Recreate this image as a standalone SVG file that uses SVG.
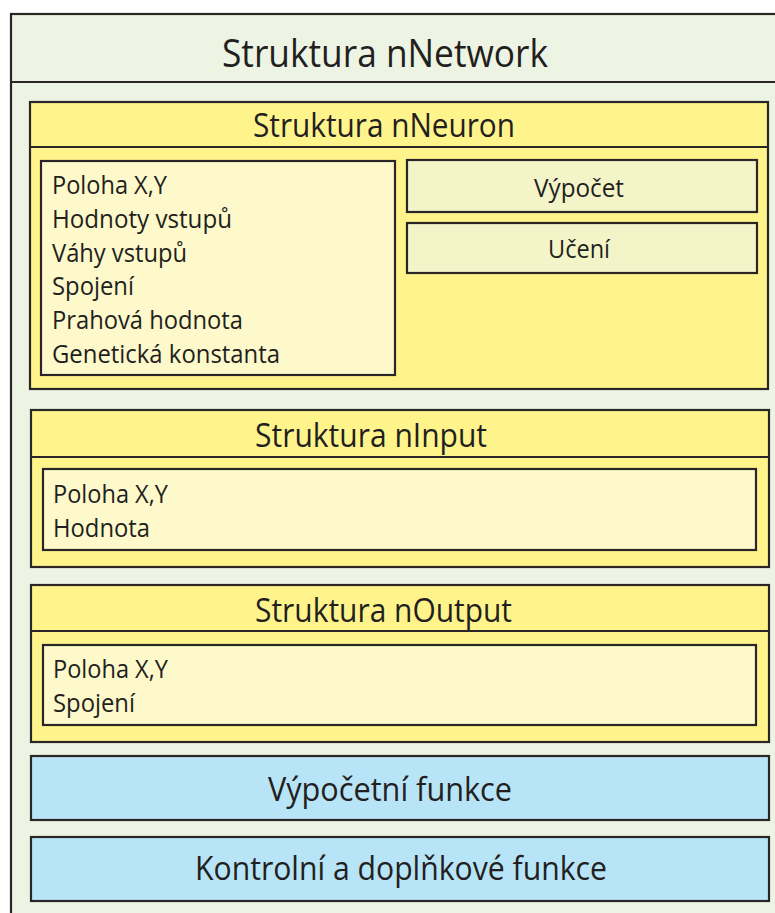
<svg xmlns="http://www.w3.org/2000/svg" width="775" height="913" viewBox="0 0 775 913">
  <style>
    .box { stroke: #2a2627; stroke-width: 2.2; }
    .outer { fill: #eef4e3; }
    .struct { fill: #fff48c; }
    .fields { fill: #fdf9cb; }
    .method { fill: #f3f5c9; }
    .func { fill: #b8e4f8; }
    .sep { stroke: #2a2627; stroke-width: 2.2; fill: none; }
    text { font-family: "Open Sans", "Noto Sans", sans-serif; fill: #231f20; }
    .h1 { font-size: 38px; }
    .h2 { font-size: 32px; }
    .b { font-size: 25px; }
  </style>

  <!-- nNetwork container -->
  <g id="nNetwork">
    <rect class="box outer" x="11" y="14" width="820" height="960"/>
    <line class="sep" x1="11" y1="82" x2="775" y2="82"/>
    <text class="h1" x="222" y="67" textLength="326" lengthAdjust="spacingAndGlyphs">Struktura nNetwork</text>
  </g>

  <!-- nNeuron structure -->
  <g id="nNeuron">
    <rect class="box struct" x="30" y="102" width="738" height="287"/>
    <line class="sep" x1="30" y1="147" x2="768" y2="147"/>
    <text class="h2" x="253" y="137" textLength="262" lengthAdjust="spacingAndGlyphs">Struktura nNeuron</text>
    <g id="nNeuron-fields">
      <rect class="box fields" x="41" y="161" width="354" height="214"/>
      <text class="b" x="52" y="194" textLength="115" lengthAdjust="spacingAndGlyphs">Poloha X,Y</text>
      <text class="b" x="52" y="228" textLength="180" lengthAdjust="spacingAndGlyphs">Hodnoty vstupů</text>
      <text class="b" x="52" y="262" textLength="135" lengthAdjust="spacingAndGlyphs">Váhy vstupů</text>
      <text class="b" x="52" y="295" textLength="82" lengthAdjust="spacingAndGlyphs">Spojení</text>
      <text class="b" x="52" y="329" textLength="191" lengthAdjust="spacingAndGlyphs">Prahová hodnota</text>
      <text class="b" x="52" y="363" textLength="228" lengthAdjust="spacingAndGlyphs">Genetická konstanta</text>
    </g>
    <g id="nNeuron-vypocet">
      <rect class="box method" x="407" y="160" width="350" height="52"/>
      <text class="b" x="534" y="197" textLength="90" lengthAdjust="spacingAndGlyphs">Výpočet</text>
    </g>
    <g id="nNeuron-uceni">
      <rect class="box method" x="407" y="223" width="350" height="50"/>
      <text class="b" x="548" y="258" textLength="62" lengthAdjust="spacingAndGlyphs">Učení</text>
    </g>
  </g>

  <!-- nInput structure -->
  <g id="nInput">
    <rect class="box struct" x="31" y="410" width="738" height="157"/>
    <line class="sep" x1="31" y1="457" x2="769" y2="457"/>
    <text class="h2" x="255" y="447" textLength="232" lengthAdjust="spacingAndGlyphs">Struktura nInput</text>
    <rect class="box fields" x="43" y="469" width="713" height="81"/>
    <text class="b" x="53" y="503" textLength="115" lengthAdjust="spacingAndGlyphs">Poloha X,Y</text>
    <text class="b" x="53" y="537" textLength="97" lengthAdjust="spacingAndGlyphs">Hodnota</text>
  </g>

  <!-- nOutput structure -->
  <g id="nOutput">
    <rect class="box struct" x="31" y="585" width="738" height="157"/>
    <line class="sep" x1="31" y1="631" x2="769" y2="631"/>
    <text class="h2" x="255" y="622" textLength="257" lengthAdjust="spacingAndGlyphs">Struktura nOutput</text>
    <rect class="box fields" x="43" y="645" width="713" height="80"/>
    <text class="b" x="53" y="678" textLength="115" lengthAdjust="spacingAndGlyphs">Poloha X,Y</text>
    <text class="b" x="53" y="712" textLength="82" lengthAdjust="spacingAndGlyphs">Spojení</text>
  </g>

  <!-- function blocks -->
  <g id="vypocetni-funkce">
    <rect class="box func" x="31" y="756" width="738" height="64"/>
    <text class="h2" x="268" y="801" textLength="244" lengthAdjust="spacingAndGlyphs">Výpočetní funkce</text>
  </g>
  <g id="kontrolni-funkce">
    <rect class="box func" x="31" y="837" width="738" height="64"/>
    <text class="h2" x="195" y="880" textLength="412" lengthAdjust="spacingAndGlyphs">Kontrolní a doplňkové funkce</text>
  </g>

  <!-- no connectors in this diagram -->
  <g id="connectors"/>
</svg>
